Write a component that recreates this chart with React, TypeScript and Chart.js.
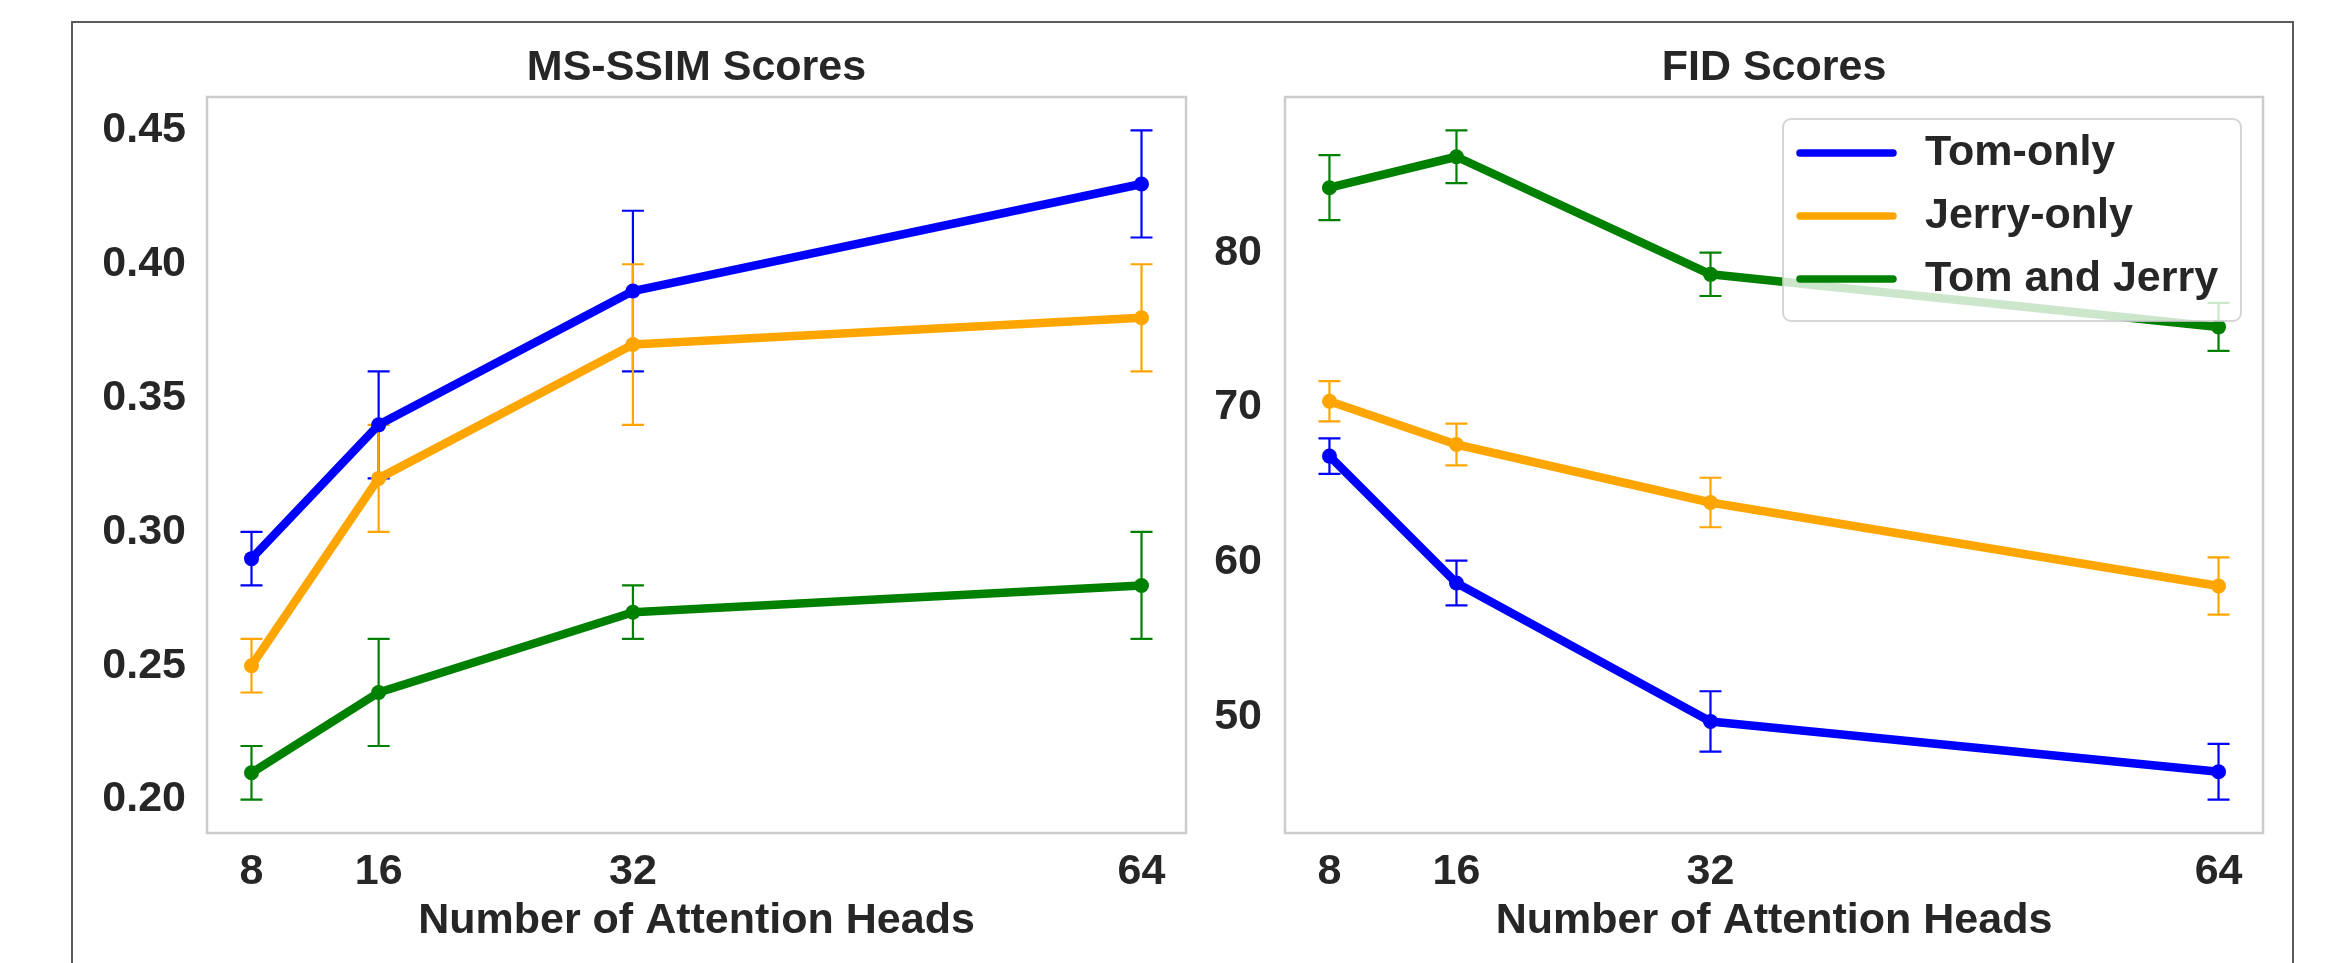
import React, { useEffect, useRef } from 'react';
import { Chart, registerables } from 'chart.js';
Chart.register(...registerables);

const heads = [8, 16, 32, 64];
const seriesNames = ['Tom-only', 'Jerry-only', 'Tom and Jerry'];
const seriesColors = ['#0000ff', '#ffa500', '#008000'];

const msssimTom = [0.29, 0.34, 0.39, 0.43];
const msssimTomErr = [0.01, 0.02, 0.03, 0.02];
const msssimJerry = [0.25, 0.32, 0.37, 0.38];
const msssimJerryErr = [0.01, 0.02, 0.03, 0.02];
const msssimBoth = [0.21, 0.24, 0.27, 0.28];
const msssimBothErr = [0.01, 0.02, 0.01, 0.02];

const fidTom = [66.85, 58.65, 49.7, 46.45];
const fidTomErr = [1.15, 1.45, 1.95, 1.8];
const fidJerry = [70.4, 67.6, 63.85, 58.45];
const fidJerryErr = [1.3, 1.35, 1.6, 1.85];
const fidBoth = [84.2, 86.2, 78.6, 75.2];
const fidBothErr = [2.1, 1.7, 1.4, 1.55];

const msssimTicks = [0.2, 0.25, 0.3, 0.35, 0.4, 0.45];
const fidTicks = [50, 60, 70, 80];

const FONT = '"Liberation Sans", Arial, Helvetica, sans-serif';
const TEXT = '#262626';
const FS = 43;

function rangeWithMargin(vals: number[][], errs: number[][], margin: number) {
  let lo = Infinity, hi = -Infinity;
  vals.forEach((s, i) => s.forEach((v, j) => {
    lo = Math.min(lo, v - errs[i][j]);
    hi = Math.max(hi, v + errs[i][j]);
  }));
  const d = (hi - lo) * margin;
  return [lo - d, hi + d];
}

const errorBarPlugin = {
  id: 'errbars',
  beforeDatasetsDraw(chart: any) {
    const ctx = chart.ctx;
    const xs = chart.scales.x, ys = chart.scales.y;
    const area = chart.chartArea;
    ctx.save();
    ctx.beginPath();
    ctx.rect(area.left, area.top, area.right - area.left, area.bottom - area.top);
    ctx.clip();
    chart.data.datasets.forEach((ds: any) => {
      ctx.strokeStyle = ds.borderColor;
      ctx.lineWidth = 2.2;
      ds.data.forEach((p: any, j: number) => {
        const e = ds.errors[j];
        const x = xs.getPixelForValue(p.x);
        const y1 = ys.getPixelForValue(p.y + e);
        const y2 = ys.getPixelForValue(p.y - e);
        ctx.beginPath();
        ctx.moveTo(x, y1); ctx.lineTo(x, y2);
        ctx.moveTo(x - 11, y1); ctx.lineTo(x + 11, y1);
        ctx.moveTo(x - 11, y2); ctx.lineTo(x + 11, y2);
        ctx.stroke();
      });
    });
    ctx.restore();
  },
};

const framePlugin = {
  id: 'frameAndTitle',
  afterDatasetsDraw(chart: any) {
    const ctx = chart.ctx;
    const a = chart.chartArea;
    ctx.save();
    ctx.strokeStyle = '#cccccc';
    ctx.lineWidth = 2.5;
    ctx.strokeRect(a.left, a.top, a.right - a.left, a.bottom - a.top);
    ctx.restore();
  },
  afterDraw(chart: any) {
    const ctx = chart.ctx;
    const a = chart.chartArea;
    const o = chart.options.plugins.frameAndTitle;
    ctx.save();
    ctx.fillStyle = TEXT;
    ctx.font = `bold ${FS}px ${FONT}`;
    ctx.textAlign = 'center';
    ctx.textBaseline = 'middle';
    ctx.fillText(o.title, (a.left + a.right) / 2, 68);
    if (o.legend) {
      const L = o.legend;
      ctx.fillStyle = 'rgba(255,255,255,0.8)';
      ctx.strokeStyle = 'rgba(204,204,204,0.8)';
      ctx.lineWidth = 2;
      ctx.beginPath();
      ctx.roundRect(L.left, L.top, L.width, L.height, 8);
      ctx.fill();
      ctx.stroke();
      seriesNames.forEach((name, i) => {
        const y = L.top + 34 + i * 63;
        ctx.strokeStyle = seriesColors[i];
        ctx.lineWidth = 7.5;
        ctx.lineCap = 'round';
        ctx.beginPath();
        ctx.moveTo(L.left + 17, y);
        ctx.lineTo(L.left + 110, y);
        ctx.stroke();
        ctx.fillStyle = TEXT;
        ctx.textAlign = 'left';
        ctx.textBaseline = 'middle';
        ctx.fillText(name, L.left + 142, y);
      });
    }
    ctx.restore();
  },
};

function makeConfig(
  vals: number[][], errs: number[][], ticks: number[], fmt: (v: number) => string,
  title: string, yAxisWidth: number, padRight: number, yPad: number, legend: any
) {
  const [ymin, ymax] = rangeWithMargin(vals, errs, 0.05);
  const xmin = heads[0] - (heads[heads.length - 1] - heads[0]) * 0.05;
  const xmax = heads[heads.length - 1] + (heads[heads.length - 1] - heads[0]) * 0.05;
  const tickFont = { family: FONT, size: FS, weight: 'bold' as const };
  return {
    type: 'line' as const,
    data: {
      datasets: vals.map((s, i) => ({
        label: seriesNames[i],
        data: s.map((v, j) => ({ x: heads[j], y: v })),
        errors: errs[i],
        borderColor: seriesColors[i],
        backgroundColor: seriesColors[i],
        pointBackgroundColor: seriesColors[i],
        pointBorderColor: seriesColors[i],
        pointBorderWidth: 0,
        pointRadius: 7.5,
        borderWidth: 8.5,
        borderJoinStyle: 'round',
        borderCapStyle: 'round',
        tension: 0,
        fill: false,
        order: 3 - i,
      })),
    },
    options: {
      animation: false,
      responsive: false,
      devicePixelRatio: 1,
      events: [],
      layout: { padding: { left: 0, right: padRight, top: 97, bottom: 0 } },
      plugins: {
        legend: { display: false },
        tooltip: { enabled: false },
        title: { display: false },
        frameAndTitle: { title, legend },
      },
      scales: {
        x: {
          type: 'linear',
          min: xmin,
          max: xmax,
          grid: { display: false, drawTicks: false, tickLength: 0 },
          border: { display: false },
          afterBuildTicks: (s: any) => { s.ticks = heads.map((v) => ({ value: v })); },
          afterFit: (s: any) => { s.height = 130; },
          ticks: { color: TEXT, font: tickFont, padding: 13, maxRotation: 0, autoSkip: false, callback: (v: any) => String(v) },
          title: { display: true, text: 'Number of Attention Heads', color: TEXT, font: tickFont, padding: { top: 0, bottom: 16 } },
        },
        y: {
          type: 'linear',
          min: ymin,
          max: ymax,
          grid: { display: false, drawTicks: false, tickLength: 0 },
          border: { display: false },
          afterBuildTicks: (s: any) => { s.ticks = ticks.map((v) => ({ value: v })); },
          afterFit: (s: any) => { s.width = yAxisWidth; },
          ticks: { color: TEXT, font: tickFont, padding: yPad, autoSkip: false, callback: (v: any) => fmt(Number(v)) },
        },
      },
    },
    plugins: [errorBarPlugin, framePlugin],
  };
}

export default function App() {
  const leftRef = useRef<HTMLCanvasElement>(null);
  const rightRef = useRef<HTMLCanvasElement>(null);

  useEffect(() => {
    document.body.style.margin = '0';
    document.body.style.overflow = 'hidden';
    const c1 = new Chart(leftRef.current as HTMLCanvasElement, makeConfig(
      [msssimTom, msssimJerry, msssimBoth],
      [msssimTomErr, msssimJerryErr, msssimBothErr],
      msssimTicks, (v) => v.toFixed(2), 'MS-SSIM Scores', 207, 9, 21, null) as any);
    const c2 = new Chart(rightRef.current as HTMLCanvasElement, makeConfig(
      [fidTom, fidJerry, fidBoth],
      [fidTomErr, fidJerryErr, fidBothErr],
      fidTicks, (v) => String(Math.round(v)), 'FID Scores', 90, 73, 23,
      { left: 588, top: 119, width: 458, height: 202 }) as any);
    return () => { c1.destroy(); c2.destroy(); };
  }, []);

  return (
    <div style={{ position: 'fixed', left: 0, top: 0, width: 2336, height: 963, overflow: 'hidden', background: '#ffffff' }}>
      <div style={{ position: 'absolute', left: 71, top: 21, width: 2223, height: 1100, border: '2px solid #5a5a5a', boxSizing: 'border-box' }} />
      <canvas ref={leftRef} width={1195} height={963} style={{ position: 'absolute', left: 0, top: 0, width: 1195, height: 963 }} />
      <canvas ref={rightRef} width={1141} height={963} style={{ position: 'absolute', left: 1195, top: 0, width: 1141, height: 963 }} />
    </div>
  );
}
